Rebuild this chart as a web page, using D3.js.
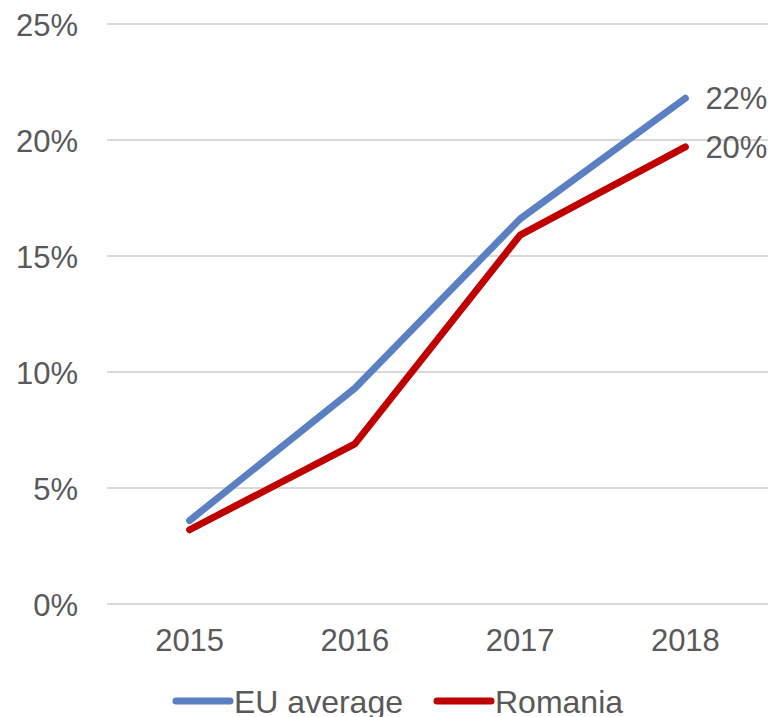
<!DOCTYPE html>
<html>
<head>
<meta charset="utf-8">
<script src="https://cdn.jsdelivr.net/npm/d3@7"></script>
<style>
  body { margin: 0; background: #fff; }
  text { font-family: "Liberation Sans", Arial, sans-serif; fill: #595959; }
</style>
</head>
<body>
<script>
let w = 771;
let h = 717;

// data
let years = ["2015", "2016", "2017", "2018"];
let euAverage = [3.6, 9.3, 16.6, 21.8];
let romania = [3.2, 6.9, 15.9, 19.7];
let yTicks = [0, 5, 10, 15, 20, 25];
let endLabels = ["22%", "20%"];

let series = [
  {name: "EU average", values: euAverage, color: "#5A80C3"},
  {name: "Romania", values: romania, color: "#C00000"}
];

let svg = d3.select("body")
            .append("svg")
            .attr("width", w)
            .attr("height", h);

let x = d3.scaleBand().domain(years).range([107, 768]);
let y = d3.scaleLinear().domain([0, 25]).range([604, 24]);

// gridlines
svg.append("g")
   .selectAll("line")
   .data(yTicks)
   .enter()
   .append("line")
   .attr("x1", 107)
   .attr("x2", 768)
   .attr("y1", d => y(d))
   .attr("y2", d => y(d))
   .attr("stroke", "#D9D9D9")
   .attr("stroke-width", 2);

// y axis labels
let yAxis = d3.axisLeft(y).tickValues(yTicks).tickFormat(d => d + "%").tickSize(0).tickPadding(0);
let gy = svg.append("g").attr("transform", "translate(78,0)").call(yAxis);
gy.select(".domain").remove();
gy.selectAll("text")
  .attr("font-size", 31)
  .attr("font-family", null)
  .attr("fill", "#595959")
  .attr("dy", "0.36em");

// x axis labels
let xAxis = d3.axisBottom(x).tickSize(0).tickPadding(0);
let gx = svg.append("g").attr("transform", "translate(0,651)").call(xAxis);
gx.select(".domain").remove();
gx.selectAll("text")
  .attr("font-size", 31)
  .attr("font-family", null)
  .attr("fill", "#595959")
  .attr("dy", 0);

let line = d3.line()
             .x((d, i) => x(years[i]) + x.bandwidth() / 2)
             .y(d => y(d));

svg.selectAll("path.series")
   .data(series)
   .enter()
   .append("path")
   .attr("class", "series")
   .attr("d", d => line(d.values))
   .attr("fill", "none")
   .attr("stroke", d => d.color)
   .attr("stroke-width", 7)
   .attr("stroke-linecap", "round")
   .attr("stroke-linejoin", "round");

// end labels
svg.selectAll("text.endlabel")
   .data(series)
   .enter()
   .append("text")
   .attr("class", "endlabel")
   .attr("x", x(years[3]) + x.bandwidth() / 2 + 20)
   .attr("y", d => y(d.values[3]))
   .attr("dy", "0.36em")
   .attr("font-size", 31)
   .text((d, i) => endLabels[i]);

// legend
let legendX = [176, 437];
let lg = svg.selectAll("g.legend")
            .data(series)
            .enter()
            .append("g")
            .attr("class", "legend")
            .attr("transform", (d, i) => "translate(" + legendX[i] + ",701)");
lg.append("line")
  .attr("x1", 0).attr("x2", 54)
  .attr("stroke", d => d.color)
  .attr("stroke-width", 7)
  .attr("stroke-linecap", "round");
lg.append("text")
  .attr("x", 58)
  .attr("dy", "0.36em")
  .attr("font-size", 32)
  .text(d => d.name);
</script>
</body>
</html>
